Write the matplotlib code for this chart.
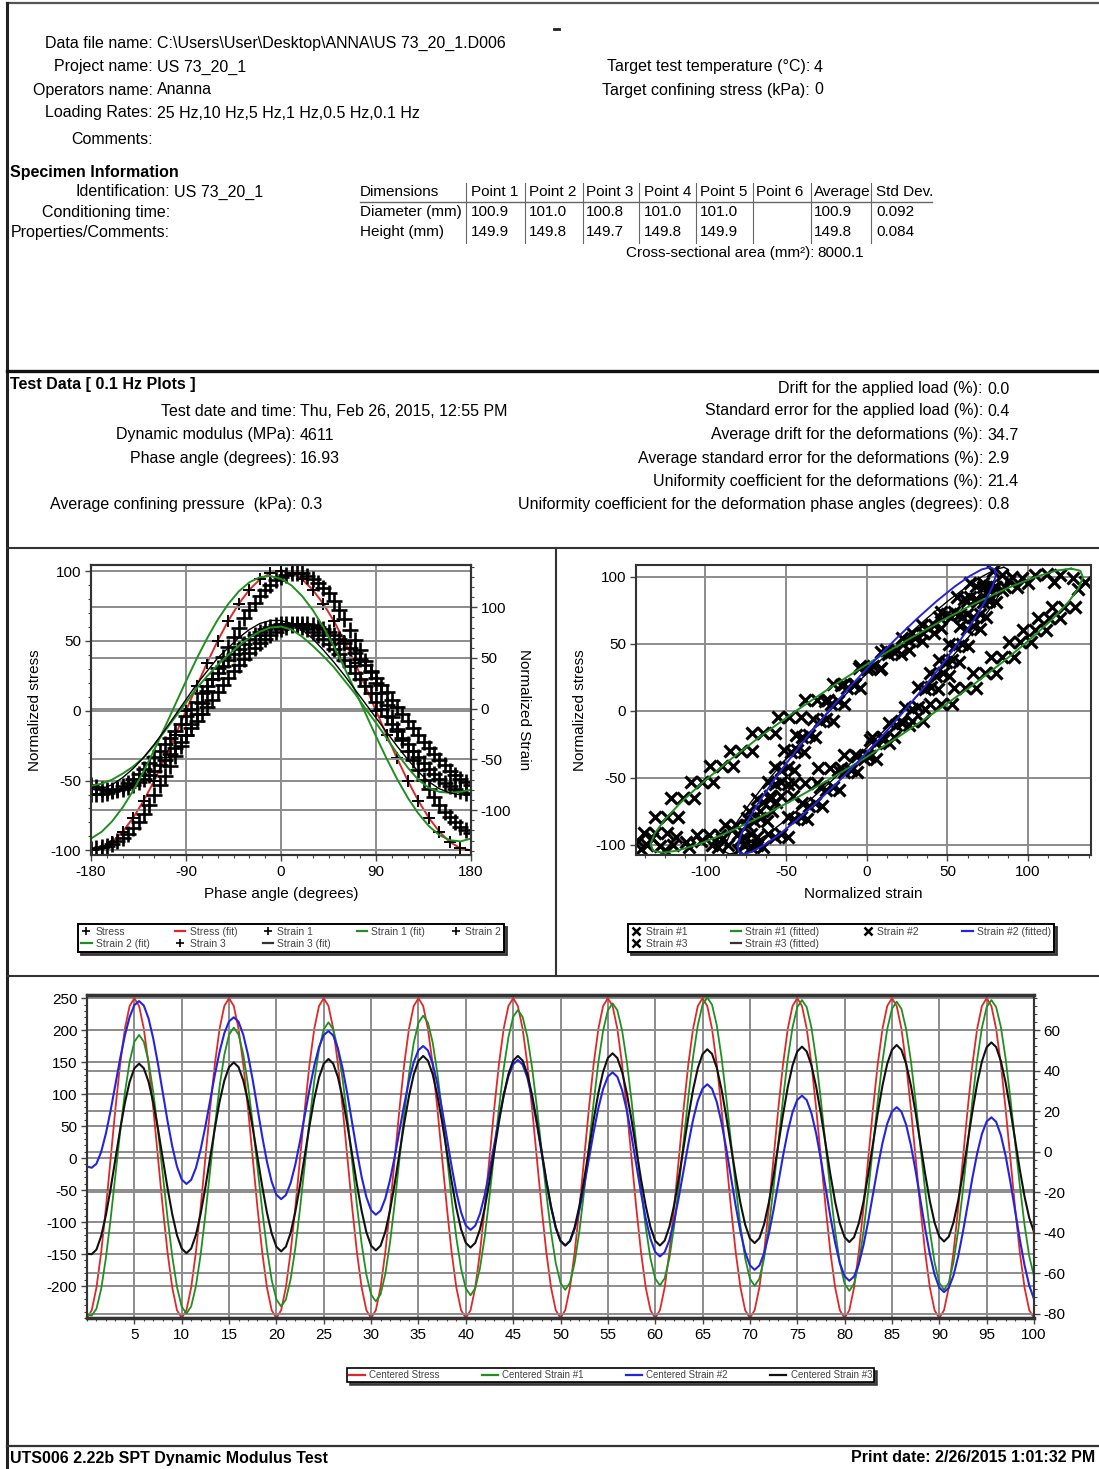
import matplotlib
matplotlib.use('Agg')
import matplotlib.pyplot as plt
from matplotlib.lines import Line2D
from matplotlib.ticker import MultipleLocator
import numpy as np

plt.rcParams['font.family'] = ['Liberation Sans', 'DejaVu Sans']
plt.rcParams['axes.unicode_minus'] = False

W, H = 1099, 1469
RED = '#e02828'
GREEN = '#1f8f1f'
BLUE = '#2424e0'

# ---------------- report text ----------------
header_labels = ['Data file name:', 'Project name:', 'Operators name:', 'Loading Rates:', 'Comments:']
header_values = [r'C:\Users\User\Desktop\ANNA\US 73_20_1.D006', 'US 73_20_1', 'Ananna',
                 '25 Hz,10 Hz,5 Hz,1 Hz,0.5 Hz,0.1 Hz', '']
target_labels = ['Target test temperature (\u00b0C):', 'Target confining stress (kPa):']
target_values = ['4', '0']

spec_labels = ['Identification:', 'Conditioning time:', 'Properties/Comments:']
spec_values = ['US 73_20_1', '', '']
dim_header = ['Dimensions', 'Point 1', 'Point 2', 'Point 3', 'Point 4', 'Point 5', 'Point 6', 'Average', 'Std Dev.']
dim_diameter = ['Diameter (mm)', '100.9', '101.0', '100.8', '101.0', '101.0', '', '100.9', '0.092']
dim_height = ['Height (mm)', '149.9', '149.8', '149.7', '149.8', '149.9', '', '149.8', '0.084']
area_text = ('Cross-sectional area (mm\u00b2):', '8000.1')

test_left_labels = ['Test date and time:', 'Dynamic modulus (MPa):', 'Phase angle (degrees):',
                    'Average confining pressure  (kPa):']
test_left_values = ['Thu, Feb 26, 2015, 12:55 PM', '4611', '16.93', '0.3']
test_right_labels = ['Drift for the applied load (%):', 'Standard error for the applied load (%):',
                     'Average drift for the deformations (%):',
                     'Average standard error for the deformations (%):',
                     'Uniformity coefficient for the deformations (%):',
                     'Uniformity coefficient for the deformation phase angles (degrees):']
test_right_values = ['0.0', '0.4', '34.7', '2.9', '21.4', '0.8']

# ---------------- phase angle plot data ----------------
fit_deg = np.arange(-180, 181, 10)
mark_deg = np.arange(-180, 181, 5)
stress_norm = [-100, -98.5, -94.0, -86.6, -76.6, -64.3, -50.0, -34.2, -17.4, 0, 17.4, 34.2, 50.0, 64.3,
               76.6, 86.6, 94.0, 98.5, 100, 98.5, 94.0, 86.6, 76.6, 64.3, 50.0, 34.2, 17.4, 0, -17.4,
               -34.2, -50.0, -64.3, -76.6, -86.6, -94.0, -98.5, -100]
strain1_fit = [-128.1, -121.5, -111.1, -97.4, -80.7, -61.5, -40.5, -18.2, 4.6, 27.2, 49.1, 69.4, 87.7,
               103.2, 115.7, 124.6, 129.7, 130.9, 128.1, 121.5, 111.1, 97.4, 80.7, 61.5, 40.5, 18.2,
               -4.6, -27.2, -49.1, -69.4, -87.7, -103.2, -115.7, -124.6, -129.7, -130.9, -128.1]
strain2_fit = [-76, -74, -70, -64, -57, -48, -36, -22, -8, 6, 20, 32, 43, 53, 62, 70, 76, 80, 81,
               78, 71, 62, 52, 41, 28, 15, 0, -14, -29, -44, -58, -70, -78, -82, -83, -82, -80]
strain3_fit = [-80, -79, -75, -68, -59, -48, -35, -21, -6, 9, 24, 37, 50, 60, 70, 78, 84, 87, 87,
               84, 78, 69, 58, 46, 33, 19, 5, -9, -23, -37, -50, -62, -72, -79, -83, -85, -85]
strain1_pts = [-138, -137, -136, -135, -133, -130, -128, -124, -118, -112,
               -104, -95, -85, -75, -66, -57, -47, -37, -26, -15,
               -5, 6, 17, 29, 40, 51, 61, 71, 80, 89,
               97, 104, 111, 117, 122, 127, 130, 132, 134, 134,
               134, 131, 128, 124, 119, 114, 106, 97, 88, 78,
               68, 58, 47, 36, 25, 15, 4, -8, -20, -31,
               -42, -51, -60, -70, -79, -87, -95, -102, -107, -112,
               -117, -120, -123]
strain2_pts = [-84, -84, -84, -83, -81, -79, -76, -73, -69, -64,
               -59, -54, -48, -42, -35, -29, -22, -15, -7, 0,
               7, 15, 22, 29, 35, 42, 48, 54, 59, 64,
               69, 73, 76, 79, 81, 83, 84, 84, 84, 83,
               81, 79, 76, 73, 69, 64, 59, 54, 48, 42,
               35, 29, 22, 15, 7, 0, -7, -15, -22, -29,
               -35, -42, -48, -54, -59, -64, -69, -73, -76, -79,
               -81, -83, -84]
strain3_pts = [-75, -77, -79, -80, -80, -80, -79, -77, -75, -72,
               -69, -65, -61, -56, -51, -45, -39, -33, -26, -19,
               -12, -5, 2, 9, 16, 23, 30, 37, 43, 49,
               55, 60, 65, 69, 73, 76, 79, 81, 83, 84,
               84, 84, 83, 81, 79, 76, 73, 69, 65, 60,
               55, 49, 43, 37, 30, 23, 16, 9, 2, -5,
               -12, -19, -26, -33, -39, -45, -51, -56, -61, -65,
               -69, -72, -75]

# ---------------- hysteresis plot data ----------------
loop1_x = [126.7, 132.4, 134.0, 131.5, 125.1, 114.9, 101.1, 84.3, 65.0, 43.6, 21.0, -2.3, -25.6,
           -48.0, -69.0, -87.9, -104.1, -117.2, -126.7, -132.4, -134.0, -131.5, -125.1, -114.9,
           -101.1, -84.3, -65.0, -43.6, -21.0, 2.3, 25.6, 48.0, 69.0, 87.9, 104.1, 117.2, 126.7]
loop1_y = [106, 104.4, 99.6, 91.8, 81.2, 68.1, 53, 36.3, 18.4, 0, -18.4, -36.3, -53, -68.1, -81.2,
           -91.8, -99.6, -104.4, -106, -104.4, -99.6, -91.8, -81.2, -68.1, -53, -36.3, -18.4, 0,
           18.4, 36.3, 53, 68.1, 81.2, 91.8, 99.6, 104.4, 106]
loop2_x = [76.5, 79.4, 79.9, 78.0, 73.6, 67.1, 58.5, 48.1, 36.3, 23.4, 9.8, -4.2, -18.0, -31.3,
           -43.6, -54.6, -63.9, -71.3, -76.5, -79.4, -79.9, -78.0, -73.6, -67.1, -58.5, -48.1,
           -36.3, -23.4, -9.8, 4.2, 18.0, 31.3, 43.6, 54.6, 63.9, 71.3, 76.5]
loop2_y = [107, 105.4, 100.5, 92.7, 82.0, 68.8, 53.5, 36.6, 18.6, 0, -18.6, -36.6, -53.5, -68.8,
           -82.0, -92.7, -100.5, -105.4, -107, -105.4, -100.5, -92.7, -82.0, -68.8, -53.5, -36.6,
           -18.6, 0, 18.6, 36.6, 53.5, 68.8, 82.0, 92.7, 100.5, 105.4, 107]
loop3_x = [85.0, 87.7, 87.7, 85.0, 79.8, 72.1, 62.2, 50.5, 37.2, 22.8, 7.7, -7.7, -22.8, -37.2,
           -50.5, -62.2, -72.1, -79.8, -85.0, -87.7, -87.7, -85.0, -79.8, -72.1, -62.2, -50.5,
           -37.2, -22.8, -7.7, 7.7, 22.8, 37.2, 50.5, 62.2, 72.1, 79.8, 85.0]
loop3_y = loop2_y

hys1_x = [-138, -131, -124, -131, -124, -117, -121, -114, -107, -109, -102, -95, -97, -90, -83,
          -85, -78, -71, -71, -64, -57, -55, -48, -41, -38, -31, -24, -21, -14, -7, -5, 2, 9,
          12, 19, 26, 28, 35, 42, 45, 52, 59, 62, 69, 76, 79, 86, 93,
          96, 104, 112, 120, 128, 135, 100, 116, 131,
          115, 122, 129, 106, 113, 120, 97, 104, 111, 88, 95, 102, 77, 84, 91, 66, 73, 80,
          54, 61, 68, 39, 46, 53, 21, 28, 35, 3, 10, 17, -14, -7, 0, -30, -23, -16,
          -45, -38, -31, -60, -53, -46, -73, -66, -59, -88, -81, -74, -105, -98, -91,
          -112, -120, -128, -136, -142, -140, -125, -110, -133, -118, -103, -96]
hys1_y = [-91, -91, -91, -79, -79, -79, -65, -65, -65, -53, -53, -53, -41, -41, -41,
          -30, -30, -30, -17, -17, -17, -5, -5, -5, 8, 8, 8, 20, 20, 20, 32, 32, 32,
          45, 45, 45, 58, 58, 58, 70, 70, 70, 82, 82, 82, 92, 92, 92,
          99, 101, 102, 101, 99, 96, 95, 96, 91,
          77, 77, 77, 69, 69, 69, 60, 60, 60, 51, 51, 51, 40, 40, 40, 28, 28, 28,
          17, 17, 17, 5, 5, 5, -8, -8, -8, -20, -20, -20, -33, -33, -33, -43, -43, -43,
          -54, -54, -54, -64, -64, -64, -75, -75, -75, -85, -85, -85, -93, -93, -93,
          -98, -100, -101, -100, -97, -103, -104, -102, -95, -94, -97, -100]
hys2_x = [-80, -72, -74, -66, -68, -60, -61, -53, -57, -49, -51, -43, -44, -36, -33, -25,
          -26, -18, -16, -8, -4, 4, 9, 17, 22, 30, 34, 42, 46, 54, 56, 64, 64, 72,
          72, 80, 68, 76, 62, 70, 58, 66, 51, 59, 45, 53, 39, 47, 32, 40, 24, 32,
          14, 22, 2, 10, -6, 2, -18, -10, -29, -21, -40, -32, -49, -41, -61, -53, -76, -68,
          -86, -80, -90, 84, 78]
hys2_y = [-92, -92, -80, -80, -66, -66, -53, -53, -42, -42, -29, -29, -18, -18, -6, -6,
          7, 7, 19, 19, 33, 33, 44, 44, 54, 54, 64, 64, 74, 74, 85, 85, 95, 95,
          92, 92, 83, 83, 72, 72, 63, 63, 50, 50, 38, 38, 28, 28, 18, 18, 3, 3,
          -9, -9, -22, -22, -34, -34, -44, -44, -57, -57, -69, -69, -79, -79, -92, -92, -100, -100,
          -100, -104, -96, 101, 104]
hys3_x = [-76, -68, -70, -62, -64, -56, -57, -49, -53, -45, -47, -39, -40, -32, -29, -21,
          -22, -14, -12, -4, 0, 8, 13, 21, 26, 34, 38, 46, 50, 58, 60, 68, 68, 76,
          76, 84, 72, 80, 66, 74, 62, 70, 55, 63, 49, 57, 43, 51, 36, 44, 28, 36,
          18, 26, 6, 14, -2, 6, -14, -6, -25, -17, -36, -28, -45, -37, -57, -49, -72, -64,
          -84, -78, -92, 88, 90]
hys3_y = [-94, -94, -82, -82, -68, -68, -55, -55, -44, -44, -31, -31, -20, -20, -8, -8,
          5, 5, 17, 17, 31, 31, 42, 42, 52, 52, 62, 62, 72, 72, 83, 83, 93, 93,
          90, 90, 81, 81, 70, 70, 61, 61, 48, 48, 36, 36, 26, 26, 16, 16, 1, 1,
          -11, -11, -24, -24, -36, -36, -46, -46, -59, -59, -71, -71, -81, -81, -94, -94, -102, -102,
          -88, -96, -102, 97, 100]

# ---------------- centered time histories (0.5 s steps) ----------------
time_s = np.arange(0, 100.5, 0.5)
centered_stress = [
    -250, -237.8, -202.3, -146.9, -77.3, 0, 77.3, 146.9, 202.3, 237.8, 250, 237.8, 202.3, 146.9, 77.3, 0, -77.3, -146.9, -202.3, -237.8,
    -250, -237.8, -202.3, -146.9, -77.3, 0, 77.3, 146.9, 202.3, 237.8, 250, 237.8, 202.3, 146.9, 77.3, 0, -77.3, -146.9, -202.3, -237.8,
    -250, -237.8, -202.3, -146.9, -77.3, 0, 77.3, 146.9, 202.3, 237.8, 250, 237.8, 202.3, 146.9, 77.3, 0, -77.3, -146.9, -202.3, -237.8,
    -250, -237.8, -202.3, -146.9, -77.3, 0, 77.3, 146.9, 202.3, 237.8, 250, 237.8, 202.3, 146.9, 77.3, 0, -77.3, -146.9, -202.3, -237.8,
    -250, -237.8, -202.3, -146.9, -77.3, 0, 77.3, 146.9, 202.3, 237.8, 250, 237.8, 202.3, 146.9, 77.3, 0, -77.3, -146.9, -202.3, -237.8,
    -250, -237.8, -202.3, -146.9, -77.3, 0, 77.3, 146.9, 202.3, 237.8, 250, 237.8, 202.3, 146.9, 77.3, 0, -77.3, -146.9, -202.3, -237.8,
    -250, -237.8, -202.3, -146.9, -77.3, 0, 77.3, 146.9, 202.3, 237.8, 250, 237.8, 202.3, 146.9, 77.3, 0, -77.3, -146.9, -202.3, -237.8,
    -250, -237.8, -202.3, -146.9, -77.3, 0, 77.3, 146.9, 202.3, 237.8, 250, 237.8, 202.3, 146.9, 77.3, 0, -77.3, -146.9, -202.3, -237.8,
    -250, -237.8, -202.3, -146.9, -77.3, 0, 77.3, 146.9, 202.3, 237.8, 250, 237.8, 202.3, 146.9, 77.3, 0, -77.3, -146.9, -202.3, -237.8,
    -250, -237.8, -202.3, -146.9, -77.3, 0, 77.3, 146.9, 202.3, 237.8, 250, 237.8, 202.3, 146.9, 77.3, 0, -77.3, -146.9, -202.3, -237.8,
    -250]
centered_strain1 = [
    -80.5, -81, -77.6, -67.8, -52.4, -33.1, -11.7, 9.7, 29.0, 44.4, 54.2, 57.6, 54.2, 44.5, 29.2, 10.1, -11.2, -32.5, -51.6, -66.9,
    -76.6, -80, -76.5, -66.5, -50.9, -31.2, -9.4, 12.4, 32.1, 47.7, 57.7, 61.2, 57.8, 48.1, 32.8, 13.6, -7.6, -28.9, -48.1, -63.4,
    -73.1, -76.5, -73.1, -63.1, -47.6, -28.0, -6.4, 15.3, 34.9, 50.4, 60.4, 63.8, 60.4, 50.6, 35.4, 16.2, -5.1, -26.4, -45.6, -60.8,
    -70.6, -74, -70.5, -60.5, -44.9, -25.3, -3.5, 18.4, 38.0, 53.6, 63.6, 67.1, 63.7, 53.9, 38.6, 19.4, -2.0, -23.3, -42.5, -57.8,
    -67.6, -71, -67.5, -57.5, -42.0, -22.3, -0.5, 21.2, 40.9, 56.4, 66.5, 69.9, 66.5, 56.7, 41.4, 22.2, 0.8, -20.6, -39.8, -55.1,
    -64.9, -68.3, -64.8, -54.8, -39.1, -19.4, 2.5, 24.3, 44.0, 59.7, 69.7, 73.2, 69.8, 59.9, 44.5, 25.1, 3.6, -18.0, -37.4, -52.8,
    -62.7, -66.1, -62.6, -52.5, -36.8, -17.0, 5.0, 26.9, 46.7, 62.4, 72.5, 76.0, 72.5, 62.4, 46.7, 26.8, 4.9, -17.1, -37.0, -52.7,
    -62.8, -66.3, -62.8, -52.8, -37.2, -17.6, 4.3, 26.1, 45.7, 61.3, 71.3, 74.8, 71.3, 61.1, 45.2, 25.2, 3.0, -19.2, -39.2, -55.1,
    -65.3, -68.8, -65.3, -55.2, -39.4, -19.5, 2.6, 24.7, 44.6, 60.4, 70.5, 74.0, 70.5, 60.4, 44.7, 24.8, 2.9, -19.1, -39.0, -54.7,
    -64.8, -68.3, -64.8, -54.6, -38.8, -18.9, 3.3, 25.4, 45.3, 61.1, 71.3, 74.8, 71.4, 61.5, 46.0, 26.5, 4.9, -16.7, -36.2, -51.7,
    -61.6]
centered_strain2 = [
    -7.4, -8, -6.0, -0.1, 9.0, 20.4, 33.2, 45.9, 57.3, 66.4, 72.3, 74.3, 72.1, 65.7, 55.7, 43.1, 29.2, 15.2, 2.6, -7.4,
    -13.8, -16, -14.0, -8.1, 1.0, 12.4, 25.2, 37.9, 49.3, 58.4, 64.3, 66.3, 64.1, 57.7, 47.8, 35.3, 21.4, 7.5, -5.0, -14.9,
    -21.3, -23.5, -21.5, -15.6, -6.4, 5.2, 18.0, 30.8, 42.4, 51.6, 57.5, 59.5, 57.3, 50.8, 40.8, 28.2, 14.2, 0.1, -12.5, -22.5,
    -29.0, -31.2, -29.2, -23.2, -14.0, -2.4, 10.5, 23.3, 34.9, 44.1, 50.1, 52.1, 49.9, 43.4, 33.4, 20.7, 6.7, -7.3, -20.0, -30.0,
    -36.5, -38.7, -36.6, -30.7, -21.4, -9.7, 3.3, 16.2, 27.9, 37.2, 43.1, 45.2, 43.0, 36.5, 26.3, 13.6, -0.6, -14.8, -27.5, -37.7,
    -44.2, -46.4, -44.3, -38.2, -28.8, -16.9, -3.7, 9.6, 21.5, 30.9, 37.0, 39.1, 36.9, 30.4, 20.4, 7.7, -6.4, -20.4, -33.1, -43.1,
    -49.6, -51.8, -49.7, -43.7, -34.3, -22.4, -9.3, 3.8, 15.7, 25.1, 31.1, 33.2, 31.0, 24.5, 14.3, 1.6, -12.6, -26.8, -39.5, -49.7,
    -56.2, -58.4, -56.3, -50.2, -40.7, -28.7, -15.4, -2.1, 9.9, 19.4, 25.5, 27.6, 25.4, 18.9, 8.8, -4.0, -18.1, -32.2, -45.0, -55.1,
    -61.6, -63.8, -61.7, -55.6, -46.1, -34.2, -21.0, -7.7, 4.2, 13.7, 19.8, 21.9, 19.7, 13.2, 3.1, -9.6, -23.8, -37.9, -50.6, -60.7,
    -67.2, -69.4, -67.3, -61.2, -51.6, -39.6, -26.3, -12.9, -0.9, 8.7, 14.8, 16.9, 14.7, 8.1, -2.0, -14.9, -29.1, -43.3, -56.1, -66.2,
    -72.8]
centered_strain3 = [
    -50.5, -50.7, -48.4, -41.7, -31.3, -18.2, -3.7, 10.9, 24.0, 34.4, 41.1, 43.4, 41.1, 34.5, 24.1, 11.1, -3.4, -17.9, -30.9, -41.3,
    -47.9, -50.2, -47.9, -41.2, -30.8, -17.7, -3.1, 11.5, 24.6, 35.0, 41.7, 44.0, 41.7, 35.1, 24.8, 11.8, -2.7, -17.1, -30.1, -40.4,
    -47.0, -49.3, -47.0, -40.2, -29.7, -16.5, -1.8, 12.9, 26.1, 36.6, 43.4, 45.7, 43.4, 36.7, 26.2, 13.1, -1.6, -16.2, -29.3, -39.8,
    -46.5, -48.8, -46.5, -39.6, -29.0, -15.6, -0.8, 14.0, 27.4, 38.0, 44.8, 47.2, 44.9, 38.2, 27.7, 14.5, -0.1, -14.7, -27.9, -38.4,
    -45.1, -47.4, -45.1, -38.4, -27.9, -14.7, -0.1, 14.5, 27.7, 38.2, 44.9, 47.2, 44.9, 38.3, 27.9, 14.9, 0.4, -14.1, -27.1, -37.5,
    -44.1, -46.4, -44.1, -37.3, -26.8, -13.6, 1.1, 15.7, 28.9, 39.4, 46.2, 48.5, 46.2, 39.4, 28.9, 15.7, 1.1, -13.6, -26.8, -37.3,
    -44.1, -46.4, -44.0, -37.1, -26.4, -12.9, 2.0, 17.0, 30.5, 41.2, 48.1, 50.5, 48.2, 41.4, 30.8, 17.4, 2.6, -12.1, -25.5, -36.1,
    -42.9, -45.2, -42.8, -35.9, -25.2, -11.7, 3.3, 18.3, 31.8, 42.5, 49.4, 51.8, 49.4, 42.6, 31.9, 18.5, 3.6, -11.4, -24.8, -35.5,
    -42.3, -44.7, -42.3, -35.4, -24.7, -11.1, 4.0, 19.0, 32.6, 43.3, 50.2, 52.6, 50.2, 43.3, 32.6, 19.1, 4.1, -10.9, -24.4, -35.1,
    -42.0, -44.4, -42.0, -35.0, -24.1, -10.4, 4.8, 19.9, 33.6, 44.5, 51.5, 53.9, 51.6, 44.7, 34.1, 20.8, 6.0, -8.9, -22.2, -32.8,
    -39.7]

fig = plt.figure(figsize=(W / 100, H / 100), dpi=100)
TXT = 11.5


def px_axes(x0, y0, x1, y1):
    return fig.add_axes([x0 / W, 1 - y1 / H, (x1 - x0) / W, (y1 - y0) / H])


def put(x, y, s, **kw):
    kw.setdefault('fontsize', TXT)
    kw.setdefault('va', 'center')
    fig.text(x / W, 1 - y / H, s, **kw)


def rule(x0, y0, x1, y1, lw=1.2, color='#333333'):
    fig.add_artist(Line2D([x0 / W, x1 / W], [1 - y0 / H, 1 - y1 / H], lw=lw, color=color,
                          transform=fig.transFigure))


def style(ax):
    for sp in ax.spines.values():
        sp.set_linewidth(1.5)
        sp.set_color('#333333')
    ax.tick_params(labelsize=11, length=4, width=1, color='#444444', pad=3)
    ax.tick_params(which='minor', length=2.5, width=0.8, color='#444444')


# page frame
rule(7, 3, 1099, 3, lw=1.6, color='#555555')
rule(7, 3, 7, 1469, lw=2.2, color='#222222')
rule(7, 371, 1099, 371, lw=2.4, color='#111111')
rule(7, 548, 1099, 548, lw=1.5, color='#333333')
rule(7, 976, 1099, 976, lw=1.5, color='#333333')
rule(556, 548, 556, 976, lw=1.5, color='#333333')
rule(7, 1446, 1099, 1446, lw=1.6, color='#333333')
rule(554, 29, 559, 29, lw=2, color='#222222')

# header
for i, (lab, val) in enumerate(zip(header_labels, header_values)):
    y = [43, 67, 90, 113, 140][i]
    put(153, y, lab, ha='right')
    put(157, y, val, ha='left')
for lab, val, y in zip(target_labels, target_values, [67, 90]):
    put(810, y, lab, ha='right')
    put(814, y, val, ha='left')

# specimen block
put(10, 172, 'Specimen Information', ha='left', fontweight='bold')
for lab, val, y in zip(spec_labels, spec_values, [192, 212, 232]):
    put(170, y, lab, ha='right')
    put(174, y, val, ha='left')
col_x = [360, 471, 529, 586, 644, 700, 756, 814, 876]
for row, y in zip([dim_header, dim_diameter, dim_height], [192, 212, 232]):
    for txt, x in zip(row, col_x):
        put(x, y, txt, ha='left', fontsize=11)
for x in [466, 525, 583, 639, 696, 753, 811, 871]:
    rule(x, 183, x, 243, lw=0.8, color='#666666')
rule(360, 202, 932, 202, lw=1.0, color='#666666')
put(814, 253, area_text[0], ha='right', fontsize=11)
put(817, 253, area_text[1], ha='left', fontsize=11)

# test data block
put(10, 384, 'Test Data [ 0.1 Hz Plots ]', ha='left', fontweight='bold')
for lab, val, y in zip(test_left_labels, test_left_values, [411, 435, 458, 504]):
    put(296, y, lab, ha='right')
    put(300, y, val, ha='left')
for lab, val, y in zip(test_right_labels, test_right_values, [389, 411, 435, 458, 481, 504]):
    put(983, y, lab, ha='right')
    put(987, y, val, ha='left')

# ---------------- phase angle plot ----------------
axL = px_axes(91, 565, 471, 855)
axL2 = axL.twinx()
axL.set_xlim(-180, 180)
axL.set_ylim(-103.3, 104.3)
axL2.set_ylim(-144.3, 141.7)
axL.set_xticks([-180, -90, 0, 90, 180])
axL.xaxis.set_minor_locator(MultipleLocator(15))
axL.set_yticks([-100, -50, 0, 50, 100])
axL.yaxis.set_minor_locator(MultipleLocator(10))
axL2.set_yticks([-100, -50, 0, 50, 100])
axL2.yaxis.set_minor_locator(MultipleLocator(10))
axL.grid(True, color='#8c8c8c', lw=1.4)
axL2.grid(True, axis='y', color='#8c8c8c', lw=1.4)
axL.plot(fit_deg, stress_norm, color=RED, lw=1.4, zorder=3)
axL.plot(fit_deg, stress_norm, ls='none', marker='+', ms=8, mew=1.4, color='k', zorder=4)
for pts in (strain1_pts, strain2_pts, strain3_pts):
    axL2.plot(mark_deg, pts, ls='none', marker='+', ms=11, mew=1.9, color='k')
axL2.plot(fit_deg, strain1_fit, color=GREEN, lw=1.4)
axL2.plot(fit_deg, strain2_fit, color=GREEN, lw=1.4)
axL2.plot(fit_deg, strain3_fit, color='k', lw=1.0)
style(axL)
style(axL2)
axL.set_xlabel('Phase angle (degrees)', fontsize=11, labelpad=6)
axL.set_ylabel('Normalized stress', fontsize=11, labelpad=6)
axL2.set_ylabel('Normalized Strain', fontsize=11, rotation=-90, labelpad=14)

mk = dict(ls='none', marker='+', color='k', ms=6, mew=1.2)
legL = [
    (Line2D([], [], **mk), 'Stress'),
    (Line2D([], [], color=GREEN, lw=1.6), 'Strain 2 (fit)'),
    (Line2D([], [], color=RED, lw=1.6), 'Stress (fit)'),
    (Line2D([], [], **mk), 'Strain 3'),
    (Line2D([], [], **mk), 'Strain 1'),
    (Line2D([], [], color='#333333', lw=1.6), 'Strain 3 (fit)'),
    (Line2D([], [], color=GREEN, lw=1.6), 'Strain 1 (fit)'),
    (Line2D([], [], **mk), 'Strain 2'),
]
lg = axL.legend([h for h, _ in legL], [t for _, t in legL], ncol=5, mode='expand',
                loc='upper left', bbox_to_anchor=(78 / W, 1 - 956 / H, 426 / W, 32 / H),
                bbox_transform=fig.transFigure, fontsize=7.5, handlelength=1.0,
                handletextpad=0.4, borderaxespad=0, borderpad=0.3, labelspacing=0.15,
                fancybox=False, shadow={'color': '0.2', 'alpha': 0.9}, framealpha=1)
lg.get_frame().set_edgecolor('k')
lg.get_frame().set_linewidth(1.4)
for t in lg.get_texts():
    t.set_color('#444444')

# ---------------- hysteresis plot ----------------
axR = px_axes(636, 565, 1091, 855)
axR.set_xlim(-143, 139)
axR.set_ylim(-107.7, 108.7)
axR.set_xticks([-100, -50, 0, 50, 100])
axR.xaxis.set_minor_locator(MultipleLocator(12.5))
axR.set_yticks([-100, -50, 0, 50, 100])
axR.grid(True, color='#8c8c8c', lw=1.4)
for hx, hy in ((hys1_x, hys1_y), (hys2_x, hys2_y), (hys3_x, hys3_y)):
    axR.plot(hx, hy, ls='none', marker='x', ms=8, mew=2.3, color='k')
axR.plot(loop3_x, loop3_y, color='k', lw=1.0)
axR.plot(loop1_x, loop1_y, color=GREEN, lw=1.4)
axR.plot(loop2_x, loop2_y, color=BLUE, lw=1.4)
style(axR)
axR.set_xlabel('Normalized strain', fontsize=11, labelpad=6)
axR.set_ylabel('Normalized stress', fontsize=11, labelpad=6)

mx = dict(ls='none', marker='x', color='k', ms=6, mew=1.8)
legR = [
    (Line2D([], [], **mx), 'Strain #1'),
    (Line2D([], [], **mx), 'Strain #3'),
    (Line2D([], [], color=GREEN, lw=1.6), 'Strain #1 (fitted)'),
    (Line2D([], [], color='#333333', lw=1.6), 'Strain #3 (fitted)'),
    (Line2D([], [], **mx), 'Strain #2'),
    (Line2D([], [], color=BLUE, lw=1.6), 'Strain #2 (fitted)'),
]
lg2 = axR.legend([h for h, _ in legR], [t for _, t in legR], ncol=4, mode='expand',
                 loc='upper left', bbox_to_anchor=(628 / W, 1 - 957 / H, 426 / W, 33 / H),
                 bbox_transform=fig.transFigure, fontsize=7.5, handlelength=1.0,
                 handletextpad=0.4, borderaxespad=0, borderpad=0.3, labelspacing=0.15,
                 fancybox=False, shadow={'color': '0.2', 'alpha': 0.9}, framealpha=1)
lg2.get_frame().set_edgecolor('k')
lg2.get_frame().set_linewidth(1.4)
for t in lg2.get_texts():
    t.set_color('#444444')

# ---------------- time history plot ----------------
axB = px_axes(87, 995, 1034, 1318)
axB2 = axB.twinx()
axB.set_xlim(0, 100)
axB.set_ylim(-250, 255)
axB2.set_ylim(-82.2, 77.3)
axB.set_xticks(np.arange(5, 101, 5))
axB.xaxis.set_minor_locator(MultipleLocator(1))
axB.set_yticks(np.arange(-200, 251, 50))
axB.yaxis.set_minor_locator(MultipleLocator(10))
axB2.set_yticks(np.arange(-80, 61, 20))
axB2.yaxis.set_minor_locator(MultipleLocator(4))
axB.grid(True, color='#8c8c8c', lw=1.4)
axB2.grid(True, axis='y', color='#8c8c8c', lw=1.4)
axB.plot(time_s, centered_stress, color=RED, lw=1.3)
axB2.plot(time_s, centered_strain1, color=GREEN, lw=1.3)
axB2.plot(time_s, centered_strain2, color=BLUE, lw=1.5)
axB2.plot(time_s, centered_strain3, color='#111111', lw=1.5)
style(axB)
style(axB2)
axB.spines['bottom'].set_linewidth(2.5)
axB.spines['top'].set_linewidth(2.5)

legB = [
    (Line2D([], [], color=RED, lw=1.6), 'Centered Stress'),
    (Line2D([], [], color=GREEN, lw=1.6), 'Centered Strain #1'),
    (Line2D([], [], color=BLUE, lw=1.6), 'Centered Strain #2'),
    (Line2D([], [], color='#111111', lw=1.6), 'Centered Strain #3'),
]
lg3 = axB.legend([h for h, _ in legB], [t for _, t in legB], ncol=4, mode='expand',
                 loc='upper left', bbox_to_anchor=(347 / W, 1 - 1386 / H, 527 / W, 18 / H),
                 bbox_transform=fig.transFigure, fontsize=7, handlelength=1.6,
                 handletextpad=0.5, borderaxespad=0, borderpad=0.2,
                 fancybox=False, shadow={'color': '0.2', 'alpha': 0.9}, framealpha=1)
lg3.get_frame().set_edgecolor('k')
lg3.get_frame().set_linewidth(1.2)
for t in lg3.get_texts():
    t.set_color('#444444')

# footer
put(10, 1458, 'UTS006 2.22b SPT Dynamic Modulus Test', ha='left', fontweight='bold')
put(1095, 1458, 'Print date: 2/26/2015 1:01:32 PM', ha='right', fontweight='bold')

fig.savefig('out.png', dpi=100)
